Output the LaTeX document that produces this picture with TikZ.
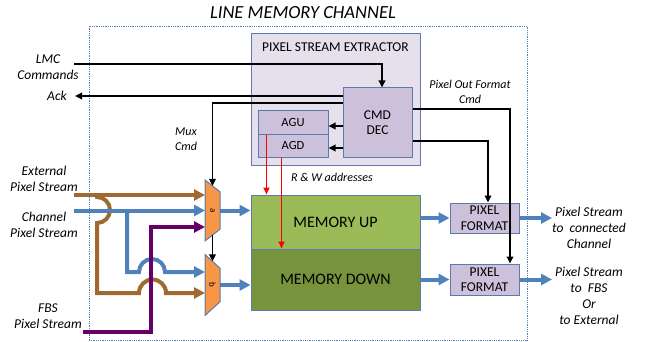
\documentclass[tikz,border=0pt]{standalone}
\usepackage{fontspec}
\setmainfont{Carlito}
\usepackage{tikz}
\usetikzlibrary{shapes.geometric,arrows.meta}
\definecolor{bordc}{HTML}{5B7BAB}
\definecolor{psefill}{HTML}{E6E0EC}
\definecolor{unitfill}{HTML}{CCC0DA}
\definecolor{memupc}{HTML}{9BBB59}
\definecolor{memdnc}{HTML}{77933C}
\definecolor{muxc}{HTML}{F79646}
\definecolor{bluec}{HTML}{4F81BD}
\definecolor{brownc}{HTML}{A0692F}
\definecolor{purplec}{HTML}{660066}
\definecolor{redc}{HTML}{FF0000}

\begin{document}
\begin{tikzpicture}[x=1pt,y=-1pt,
  txt/.style={font=\fontsize{13.5}{15.5}\selectfont},
  lbl/.style={font=\fontsize{13.5}{16}\selectfont\itshape,align=center},
  smalllbl/.style={font=\fontsize{12}{14.5}\selectfont\itshape,align=center},
  unit/.style={draw=bordc,fill=unitfill,line width=1pt,align=center,inner sep=0pt,txt},
  mem/.style={draw=bordc,line width=1pt,minimum width=169pt,font=\fontsize{16}{18}\selectfont},
  mux/.style={trapezium,rotate=-90,trapezium stretches=true,trapezium left angle=73,trapezium right angle=73,
    minimum width=61pt,minimum height=15pt,draw=bordc,fill=muxc,line width=1pt,inner sep=0pt,outer sep=0pt,
    font=\fontsize{9}{10}\selectfont},
  cmdline/.style={line width=1.8pt,-{Triangle[length=7pt,width=6.5pt]}},
  stream/.style={line width=4pt,-{Triangle[length=11pt,width=11pt]}},
  addr/.style={redc,line width=1.6pt,-{Triangle[length=7pt,width=6pt]}}]
\useasboundingbox (0,0) rectangle (647,342);
\node[draw=bluec,densely dotted,line width=0.8pt,minimum width=438pt,minimum height=314pt,inner sep=0pt] (lmc) at (308,183) {};
\node[font=\fontsize{18.5}{20}\selectfont\itshape] (title) at (303,13) {LINE MEMORY CHANNEL};

\node[draw=bordc,fill=psefill,line width=1pt,minimum width=169pt,minimum height=131pt] (pse) at (335.5,99.5) {};
\node[txt] (psetitle) at (335.5,47.5) {PIXEL STREAM EXTRACTOR};
\node[unit,minimum width=69pt,minimum height=69pt] (cmd) at (377.5,122.5) {CMD\\DEC};
\node[unit,minimum width=70pt,minimum height=23pt,font=\fontsize{12.5}{15}\selectfont] (agu) at (293,122.5) {AGU};
\node[unit,minimum width=70pt,minimum height=23pt,font=\fontsize{12.5}{15}\selectfont] (agd) at (293,145.5) {AGD};

\node[mem,fill=memupc,minimum height=54pt] (memup) at (335.5,222) {MEMORY UP};
\node[mem,fill=memdnc,minimum height=61pt] (memdn) at (335.5,279.5) {MEMORY DOWN};
\node[unit,minimum width=69pt,minimum height=30pt] (pfup) at (484.5,218) {PIXEL\\FORMAT};
\node[unit,minimum width=69pt,minimum height=31pt] (pfdn) at (484.5,279.5) {PIXEL\\FORMAT};
\node[mux] (muxa) at (212.5,210.5) {a};
\node[mux] (muxb) at (212.5,285) {b};

\node[lbl] (lmclbl) at (48,67) {LMC\\Commands};
\node[lbl] (acklbl) at (57,96) {Ack};
\node[smalllbl] (muxlbl) at (186,139) {Mux\\Cmd};
\node[lbl] (extlbl) at (44,179) {External\\Pixel Stream};
\node[lbl] (chlbl) at (44,225) {Channel\\Pixel Stream};
\node[lbl] (fbslbl) at (48,316) {FBS\\Pixel Stream};
\node[smalllbl] (rwlbl) at (332,177) {R \& W addresses};
\node[smalllbl] (pofmt) at (470,92) {Pixel Out Format\\Cmd};
\node[lbl] (outalbl) at (589,228) {Pixel Stream\\to\ \ connected\\Channel};
\node[lbl] (outblbl) at (589,295.5) {Pixel Stream\\to\ \ FBS\\Or\\to External};

\coordinate (lmcin) at (74,64);
\coordinate (ackout) at (75,96);
\coordinate (extin) at (74,195);
\coordinate (extj) at (97,195);
\coordinate (chin) at (74,210.5);
\coordinate (chj) at (127,210.5);
\coordinate (fbsin) at (83,332);
\coordinate (fbsj) at (151,227);
\coordinate (outa) at (552,218);
\coordinate (outb) at (552,279.5);
\coordinate (ru) at ([xshift=9pt]agu.south west);
\coordinate (rd) at ([xshift=24pt]agd.south west);

\draw[cmdline] (lmcin) -| ([xshift=4.5pt]cmd.north);
\draw[cmdline] (cmd.west |- ackout) -- (ackout);
\draw[cmdline] (cmd.west |- 0,103) -| (muxa.west);
\draw[cmdline] (muxa.east) -- (muxb.west);
\draw[cmdline] (cmd.west |- 0,126) -- (agu.east |- 0,126);
\draw[cmdline] (cmd.west |- 0,148) -- (agd.east |- 0,148);
\draw[cmdline] (cmd.east |- 0,141) -| ([xshift=3.5pt]pfup.north);
\draw[cmdline] (cmd.east |- 0,109) -| ([xshift=25.5pt]pfdn.north);
\draw[addr] (ru) -- (ru |- memup.north);
\draw[addr] (rd) -- (rd |- memdn.north);

\draw[stream,brownc] (extin) -- (extin -| muxa.south);
\draw[stream,brownc] (extj) -- (97,197) arc[start angle=-90,end angle=90,radius=13] -- (97,293) -- (139,293)
  arc[start angle=180,end angle=360,radius=13.5] -- (muxb.south |- 0,293);
\draw[stream,bluec] (chin) -- (chin -| muxa.south);
\draw[stream,bluec] (chj) -- (127,272) -- (139,272) arc[start angle=180,end angle=360,radius=13] -- (muxb.south |- 0,272);
\draw[stream,purplec] (fbsin) -| (fbsj) -- (fbsj -| muxa.south);
\draw[stream,bluec] (muxa.north) -- (muxa.north -| memup.west);
\draw[stream,bluec] (muxb.north) -- (muxb.north -| memdn.west);
\draw[stream,bluec] (pfup.west -| memup.east) -- (pfup.west);
\draw[stream,bluec] (pfdn.west -| memdn.east) -- (pfdn.west);
\draw[stream,bluec] (pfup.east) -- (outa);
\draw[stream,bluec] (pfdn.east) -- (outb);
\end{tikzpicture}
\end{document}
